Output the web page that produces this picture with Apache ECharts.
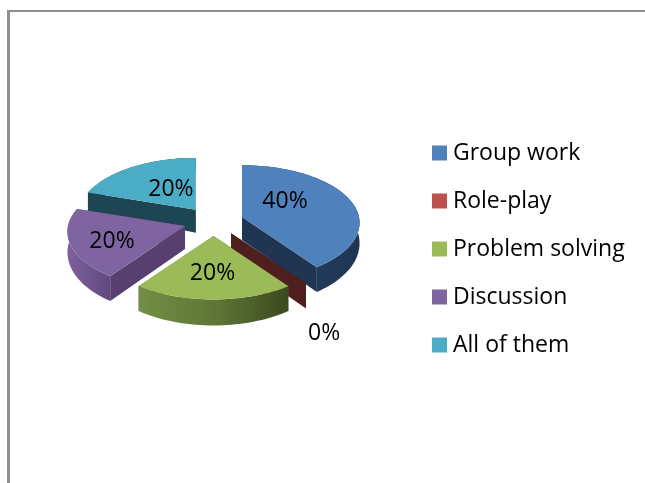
<!DOCTYPE html>
<html><head><meta charset="utf-8">
<style>html,body{margin:0;padding:0;background:#fff}#c{width:645px;height:483px}</style>
<script src="https://cdn.jsdelivr.net/npm/echarts@6/dist/echarts.min.js"></script>
</head><body><div id="c"></div>
<script>
const categories = ['Group work','Role-play','Problem solving','Discussion','All of them'];
const percents = [40,0,20,20,20];

const topColors = ['#4f81bd','#c0504d','#9bbb59','#8064a2','#4bacc6'];
const faceColors = ['#1f3552','#4f1f1f','#4d5f2c','#57406f','#1e4553'];
const rimStops = [['#27456b','#1f3552'],['#4f1f1f','#4f1f1f'],['#728f45','#5f7736','#3c4920'],['#7d609e','#62497d'],['#1e4553','#1e4553']];
const zOrder = [2,3,4,1,0];
const labelOffset = [[43,-16],[93,100],[-1,37],[-73,15],[-25,-20]];
const FONT_FAMILY = 'Open Sans';
const FONT_SIZE = 23;

const G = {cx:213.5, cy:221.5, R:117, ry:57, persp:0.1, explode:0.256, apexDepth:23, rimDepth:20, rimSlope:6};
const rad = d => d*Math.PI/180;
function sweep(i){
  let s=0; for(let k=0;k<i;k++) s+=percents[k];
  return [s*3.6,(s+percents[i])*3.6];
}
function apex(m){
  return [G.cx+G.R*G.explode*Math.sin(rad(m)), G.cy-G.ry*G.explode*Math.cos(rad(m))];
}
function rimPt(a,t){
  const c=Math.cos(rad(t)), s=1/(1+G.persp*c);
  return [a[0]+G.R*Math.sin(rad(t))*s, a[1]-G.ry*c*s];
}
const rimD = t => G.rimDepth-G.rimSlope*Math.cos(rad(t));
const poly = (pts,fill) => ({type:'polygon',shape:{points:pts},style:{fill:fill},silent:true});

function renderSlice(i){
  return function(){
    const [a0,a1]=sweep(i), m=(a0+a1)/2, A=apex(m), kids=[];
    const down=(p,d)=>[p[0],p[1]+d];
    const face=t=>{const r=rimPt(A,t);return [A,r,down(r,rimD(t)),down(A,G.apexDepth)];};
    const n=Math.max(1,Math.round((a1-a0)/2));
    const arc=[],low=[];
    for(let k=0;k<=n;k++){const t=a0+(a1-a0)*k/n,p=rimPt(A,t);arc.push(p);low.push(down(p,rimD(t)));}
    kids.push(poly(face(a0),faceColors[i]));
    kids.push(poly(face(a1),faceColors[i]));
    if(a1>a0){
      const xs=arc.map(p=>p[0]);
      const stops=rimStops[i].map((c,k,l)=>({offset:k/(l.length-1),color:c}));
      const lo=Math.min(...xs),hi=Math.max(...xs);
      kids.push(poly(arc.concat(low.slice().reverse()),
        {type:'linear',x:lo,y:0,x2:hi,y2:0,global:true,colorStops:stops}));
      kids.push(poly([A].concat(arc),topColors[i]));
    }
    kids.push({type:'text',style:{text:percents[i]+'%',x:A[0]+labelOffset[i][0],y:A[1]+labelOffset[i][1],
      align:'center',verticalAlign:'middle',fill:'#000',fontFamily:FONT_FAMILY,fontSize:FONT_SIZE},silent:true});
    return {type:'group',children:kids};
  };
}

const option = {
  animation:false,
  backgroundColor:'#fff',
  legend:{orient:'vertical',left:427,top:136,icon:'rect',itemWidth:15,itemHeight:15,itemGap:24,
    data:categories,selectedMode:false,
    textStyle:{fontFamily:FONT_FAMILY,fontSize:FONT_SIZE,color:'#000',padding:[0,0,0,1],lineHeight:24}},
  graphic:[
    {type:'rect',shape:{x:7,y:10,width:3,height:473},style:{fill:'#8f8f8f'},silent:true},
    {type:'rect',shape:{x:7,y:10,width:638,height:2},style:{fill:'#8f8f8f'},silent:true}
  ],
  series:categories.map((name,i)=>({
    type:'custom',name:name,coordinateSystem:'none',z:2+zOrder[i],
    itemStyle:{color:topColors[i]},
    data:[percents[i]],
    renderItem:renderSlice(i)
  }))
};
echarts.init(document.getElementById('c'),null,{renderer:'canvas'}).setOption(option);
</script></body></html>
